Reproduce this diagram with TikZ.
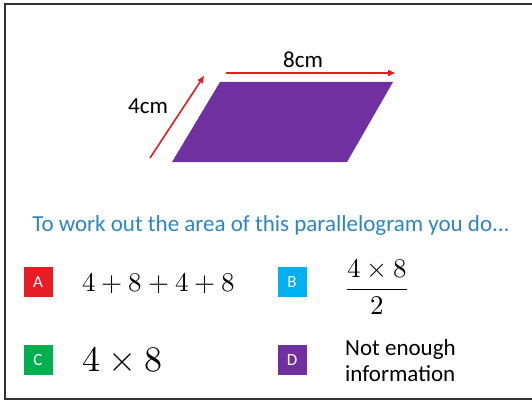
\documentclass[tikz,border=0pt]{standalone}
\usepackage{fontspec}
\usepackage{unicode-math}
\setmainfont{Carlito}
\usetikzlibrary{arrows.meta}
\definecolor{qblue}{RGB}{46,134,193}
\definecolor{ared}{RGB}{232,28,36}
\definecolor{bcyan}{RGB}{0,176,240}
\definecolor{cgreen}{RGB}{0,176,80}
\definecolor{dpurple}{RGB}{112,48,160}
\definecolor{arrred}{RGB}{228,30,30}
\begin{document}
\begin{tikzpicture}[x=1pt,y=-1pt,>={Triangle[length=7pt,width=6pt]},
  letterbox/.style={minimum width=29pt,minimum height=30pt,inner sep=0pt,text=white,font=\fontsize{17}{20}\selectfont},
  answer/.style={anchor=west,inner sep=0pt}]
\useasboundingbox (0,0) rectangle (532,401);
\fill[white] (0,0) rectangle (532,401);
% frame
\draw[line width=2pt,black!80] (532,4) -- (5,4) -- (5,399) -- (532,399);
% the parallelogram
\fill[dpurple] (220,82) -- (393,82) -- (347,162) -- (172,162) -- cycle;
\coordinate (s1) at (150,158);
\coordinate (s2) at (204,76);
\coordinate (t1) at (226,73);
\coordinate (t2) at (395,73);
\draw[->,arrred,line width=1.6pt] (s1) -- (s2);
\draw[->,arrred,line width=1.6pt] (t1) -- (t2);
\node[font=\fontsize{23}{26}\selectfont] (top) at (303,60) {8cm};
\node[font=\fontsize{23}{26}\selectfont] (side) at (148,106) {4cm};
% question
\node[text=qblue,font=\fontsize{23}{26}\selectfont] (q) at (271,225) {To work out the area of this parallelogram you do...};
% answers
\node[letterbox,fill=ared] (A) at (38,282) {A};
\node[letterbox,fill=bcyan] (B) at (292,282) {B};
\node[letterbox,fill=cgreen] (C) at (38,360) {C};
\node[letterbox,fill=dpurple] (D) at (292,360) {D};
\node[answer,font=\fontsize{27}{30}\selectfont] (a) at (82,283) {$4+8+4+8$};
\node[answer,font=\fontsize{27}{31}\selectfont] (b) at (346,287) {$\displaystyle\frac{4\times8}{2}$};
\node[answer,font=\fontsize{36}{40}\selectfont] (c) at (82,360) {$4\times8$};
\node[answer,align=left,font=\fontsize{23}{26}\selectfont] (d) at (345,361) {Not enough\\information};
\end{tikzpicture}
\end{document}
